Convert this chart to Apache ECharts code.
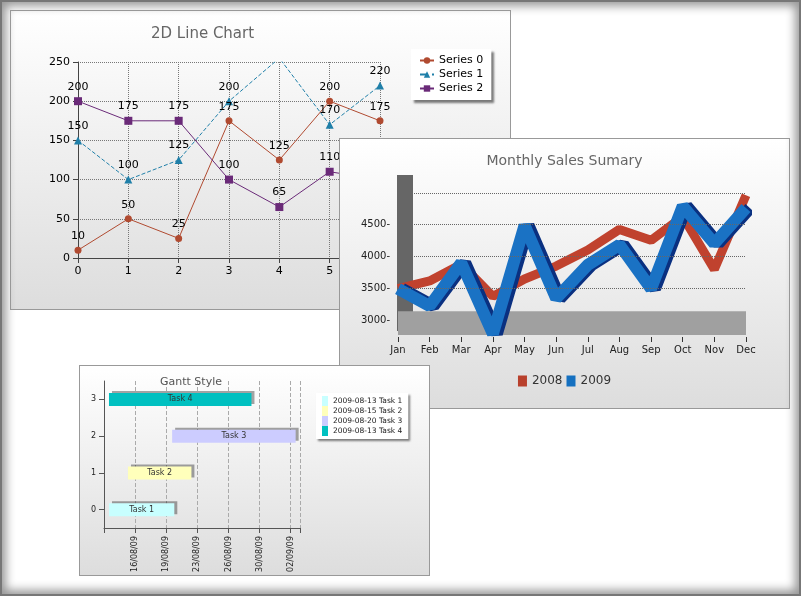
<!DOCTYPE html>
<html><head><meta charset="utf-8">
<script src="https://cdn.jsdelivr.net/npm/echarts@6/dist/echarts.min.js"></script>
<style>
html,body{margin:0;padding:0;width:801px;height:596px;overflow:hidden;background:#fff;}
#frame{position:absolute;left:0;top:0;width:801px;height:596px;box-shadow:inset 0 0 0 2px #777, inset 0 0 10px 6px #999;z-index:10;pointer-events:none;}
.panel{position:absolute;border:1px solid #999;background:linear-gradient(#fff,#ddd);box-sizing:border-box;}
#p1{left:10px;top:10px;width:501px;height:300px;z-index:1;}
#p2{left:339px;top:138px;width:451px;height:271px;z-index:2;}
#p3{left:79px;top:365px;width:351px;height:211px;z-index:3;}
</style></head><body>
<div id="p1" class="panel"></div><div id="p2" class="panel"></div><div id="p3" class="panel"></div>
<div id="frame"></div>
<script>
// ---- 2D line chart data
const lineX = ['0','1','2','3','4','5','6'];
const series0 = [10,50,25,175,125,200,175];
const series1 = [150,100,125,200,255,170,220];
const series2 = [200,175,175,100,65,110,100];
// ---- Monthly sales data
const months = ['Jan','Feb','Mar','Apr','May','Jun','Jul','Aug','Sep','Oct','Nov','Dec'];
const sales2008 = [3500,3620,3880,3380,3650,3850,4100,4420,4250,4620,3800,4950];
const sales2009 = [3500,3230,3900,2800,4480,3350,3870,4180,3500,4780,4200,4750];
const salesTicks = [3000,3500,4000,4500];
// ---- Gantt data (x in tick units)
const ganttTicks = ['','16/08/09','19/08/09','23/08/09','26/08/09','30/08/09','02/09/09'];
const ganttRows = ['0','1','2','3'];
const taskNames = ['Task 1','Task 2','Task 3','Task 4'];
const taskLegend = ['2009-08-13 Task 1','2009-08-15 Task 2','2009-08-20 Task 3','2009-08-13 Task 4'];
const taskStart = [0.16,0.77,2.19,0.16];
const taskLen = [2.1,2.04,3.97,4.58];
const taskColors = ['#c8ffff','#ffffbb','#ccccff','#00c0c0'];

const F = 'DejaVu Sans';
// chart 1
echarts.init(document.getElementById('p1')).setOption({
  animation:false,
  textStyle:{fontFamily:F},
  title:{text:'2D Line Chart',left:135,top:11,textStyle:{fontFamily:F,fontSize:15,fontWeight:'normal',color:'#666'}},
  legend:{orient:'vertical',left:400,top:38,backgroundColor:'#fff',padding:[6,8],itemGap:3,itemWidth:14,itemHeight:8,
    shadowColor:'rgba(0,0,0,0.5)',shadowOffsetX:3,shadowOffsetY:3,shadowBlur:2,textStyle:{fontSize:11,color:'#000'}},
  grid:{left:67,right:130,top:51,bottom:51},
  xAxis:{type:'category',data:lineX,boundaryGap:false,axisLine:{lineStyle:{color:'#444'}},axisLabel:{color:'#000',fontSize:11},
    splitLine:{show:true,lineStyle:{type:'dotted',color:'#777'}}},
  yAxis:{type:'value',min:0,max:250,interval:50,axisLine:{show:true,lineStyle:{color:'#444'}},axisTick:{show:true},axisLabel:{color:'#000',fontSize:11},
    splitLine:{lineStyle:{type:'dotted',color:'#777'}}},
  series:[
    {name:'Series 0',type:'line',data:series0,symbol:'circle',symbolSize:7,color:'#b04a30',lineStyle:{width:1},label:{show:true,position:'top',color:'#000',fontSize:11}},
    {name:'Series 1',type:'line',data:series1,symbol:'triangle',symbolSize:8,color:'#1f7fa8',lineStyle:{width:1,type:'dashed'},label:{show:true,position:'top',color:'#000',fontSize:11}},
    {name:'Series 2',type:'line',data:series2,symbol:'rect',symbolSize:8,color:'#6a2a78',lineStyle:{width:1},label:{show:true,position:'top',color:'#000',fontSize:11}}
  ]
});
// chart 2
const c2 = echarts.init(document.getElementById('p2'));
c2.setOption({
  animation:false,
  textStyle:{fontFamily:F},
  title:{text:'Monthly Sales Sumary',left:'center',top:10,textStyle:{fontFamily:F,fontSize:14,fontWeight:'normal',color:'#666'}},
  legend:{bottom:16,itemGap:4,itemWidth:9,itemHeight:11,icon:'rect',textStyle:{fontSize:12,color:'#333'}},
  grid:{left:58,right:43,top:53,bottom:71},
  xAxis:{type:'category',data:months,boundaryGap:false,axisLine:{show:false},axisTick:{show:true,lineStyle:{color:'#333'}},axisLabel:{color:'#222',fontSize:10}},
  yAxis:{type:'value',min:2750,max:5000,interval:250,axisLine:{show:false},axisTick:{show:false},splitLine:{show:false},
    axisLabel:{color:'#222',fontSize:10,formatter:v=>salesTicks.includes(v)?v+'-':''}},
  series:[
    {name:'2008',type:'line',data:sales2008,color:'#b8402c',symbol:'none',lineStyle:{width:9,color:'#c0422e'},z:2,
      markArea:{silent:true,itemStyle:{color:'#a0a0a0'},data:[[{yAxis:2780},{yAxis:3150}]]},
      markLine:{silent:true,symbol:'none',label:{show:false},lineStyle:{type:'dotted',color:'#666',width:1},data:[{yAxis:3500},{yAxis:4000},{yAxis:4500},{yAxis:4980}]}},
    {name:'2009',type:'line',data:sales2009,color:'#1570c0',symbol:'none',lineStyle:{width:12,color:'#1a72c4',shadowColor:'#0a3080',shadowOffsetX:4,shadowOffsetY:0},z:3}
  ],
  graphic:[{type:'rect',left:57,top:36,shape:{width:16,height:156},style:{fill:'#666'},z:-1}]
});
// chart 3
const ganttSeries = [{name:'base',type:'bar',stack:'g',data:taskStart,itemStyle:{color:'transparent'},barWidth:13,silent:true}];
taskNames.forEach((t,i)=>{
  ganttSeries.push({name:taskLegend[i],type:'bar',stack:'g',barWidth:13,color:taskColors[i],
    data:ganttRows.map((r,j)=>j===i?taskLen[i]:'-'),
    itemStyle:{shadowColor:'rgba(0,0,0,0.35)',shadowOffsetX:3,shadowOffsetY:-2},
    label:{show:true,formatter:t,color:'#333',fontSize:8}});
});
echarts.init(document.getElementById('p3')).setOption({
  animation:false,
  textStyle:{fontFamily:F},
  title:{text:'Gantt Style',left:75,top:6,textStyle:{fontFamily:F,fontSize:11,fontWeight:'normal',color:'#555'}},
  legend:{data:taskLegend,orient:'vertical',left:236,top:27,backgroundColor:'#fff',padding:[3,6],itemGap:0,itemWidth:6,itemHeight:10,icon:'rect',
    itemStyle:{borderWidth:0,shadowBlur:0,shadowOffsetX:0,shadowOffsetY:0},
    shadowColor:'rgba(0,0,0,0.5)',shadowOffsetX:2,shadowOffsetY:2,shadowBlur:2,textStyle:{fontSize:7.5,color:'#222'}},
  grid:{left:24,right:129,top:15,bottom:47},
  xAxis:{type:'value',min:0,max:6.3,interval:1,axisLine:{show:true,lineStyle:{color:'#555'}},axisTick:{show:true},
    axisLabel:{rotate:90,fontSize:8,color:'#222',formatter:v=>ganttTicks[v]||''},splitLine:{lineStyle:{type:'dashed',color:'#aaa'}}},
  yAxis:{type:'category',data:ganttRows,axisLine:{lineStyle:{color:'#555'}},axisTick:{show:true,alignWithLabel:true},axisLabel:{fontSize:8,color:'#222'},
    splitLine:{show:false}},
  series:ganttSeries
});
</script></body></html>
